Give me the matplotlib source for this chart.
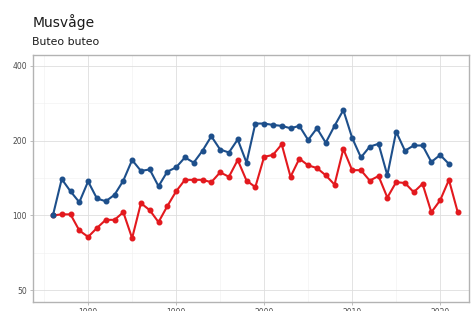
import matplotlib
matplotlib.use("Agg")
import matplotlib.pyplot as plt
from matplotlib.ticker import FixedLocator, NullFormatter

years_blue = list(range(1976, 2022))
blue = [100, 140, 125, 113, 137, 117, 114, 121, 138, 167,
        151, 153, 131, 150, 156, 171, 163, 182, 208, 184,
        179, 202, 163, 234, 234, 231, 229, 224, 229, 201,
        224, 196, 229, 265, 205, 171, 189, 194, 145, 217,
        182, 191, 191, 164, 175, 161]
years_red = list(range(1976, 2023))
red = [100, 101, 101, 87, 82, 89, 96, 96, 103, 81,
       112, 105, 94, 109, 125, 139, 139, 139, 136, 149,
       143, 167, 138, 130, 172, 175, 193, 143, 169, 159,
       155, 145, 133, 185, 152, 152, 138, 144, 118, 136,
       135, 124, 134, 103, 115, 139, 103]
y_ticks = [50, 100, 200, 400]
x_ticks = [1980, 1990, 2000, 2010, 2020]
title = "Musvåge"
subtitle = "Buteo buteo"

fig = plt.figure(figsize=(4.73, 3.11), dpi=100)
ax = fig.add_axes([0.070, 0.029, 0.921, 0.794])
ax.set_yscale("log")
ax.set_xlim(1973.75, 2023.25)
ax.set_ylim(44.9, 441)

ax.yaxis.set_major_locator(FixedLocator(y_ticks))
ax.yaxis.set_minor_locator(FixedLocator([70.71, 141.42, 282.84]))
ax.set_yticklabels([str(t) for t in y_ticks])
ax.yaxis.set_minor_formatter(NullFormatter())
ax.xaxis.set_major_locator(FixedLocator(x_ticks))
ax.xaxis.set_minor_locator(FixedLocator([1975, 1985, 1995, 2005, 2015]))
ax.set_xticklabels([str(t) for t in x_ticks])

ax.grid(True, which="major", color="#dedede", lw=0.6)
ax.grid(True, which="minor", color="#efefef", lw=0.4)
ax.set_axisbelow(True)
for s in ax.spines.values():
    s.set_color("#b3b3b3")
    s.set_linewidth(1.0)
ax.tick_params(axis="both", which="major", length=2.5, width=0.6, color="#b3b3b3",
               labelsize=5.5, labelcolor="#4d4d4d", pad=2)
ax.tick_params(axis="both", which="minor", length=0)

ax.plot(years_red, red, color="#e3191e", lw=1.5, marker="o", ms=3.3, zorder=3)
ax.plot(years_blue, blue, color="#1d4f8b", lw=1.5, marker="o", ms=3.3, zorder=4)

fig.text(0.068, 0.913, title, fontsize=10, color="#1a1a1a", ha="left", va="baseline")
fig.text(0.068, 0.855, subtitle, fontsize=7.8, color="#1a1a1a", ha="left", va="baseline")

fig.savefig("out.png", dpi=100)
